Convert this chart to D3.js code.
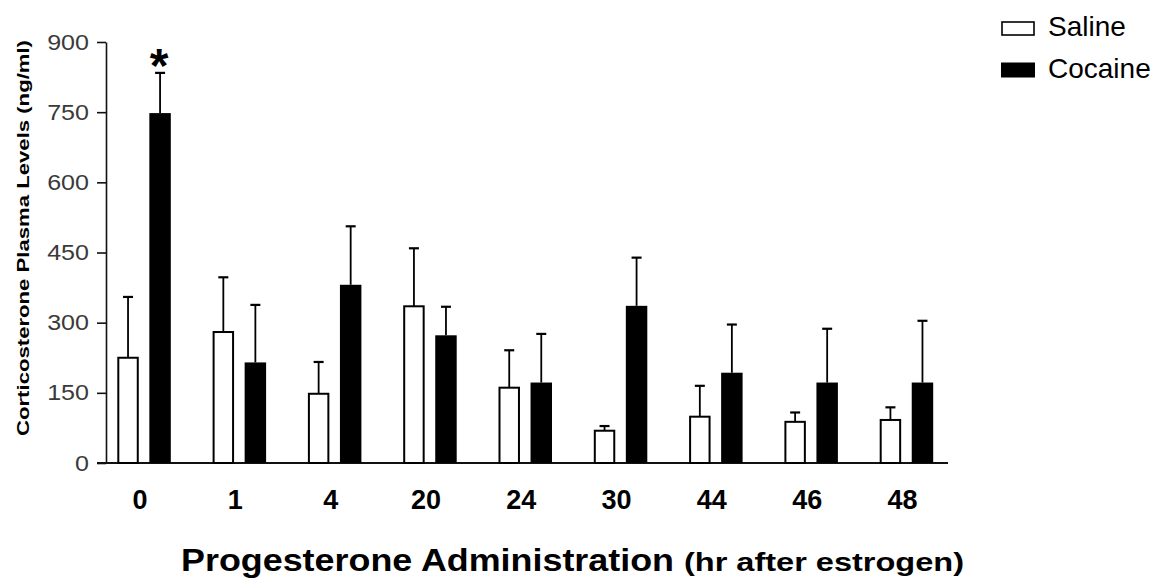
<!DOCTYPE html>
<html>
<head>
<meta charset="utf-8">
<script src="https://cdn.jsdelivr.net/npm/d3@7"></script>
<style>
  html, body { margin: 0; padding: 0; background: #fff; }
  svg { display: block; font-family: "Liberation Sans", Arial, Helvetica, sans-serif; }
</style>
</head>
<body>
<svg id="chart" width="1165" height="580"></svg>
<script>
// Hours after estrogen at which progesterone was given
const times = ["0", "1", "4", "20", "24", "30", "44", "46", "48"];
const groups = ["Saline", "Cocaine"];

// Corticosterone plasma levels (ng/ml), mean and SEM
const salineMean = [225, 280, 148, 335, 161, 69, 99, 88, 92];
const salineSem = [130, 117, 68, 124, 80, 10, 66, 20, 27];
const cocaineMean = [748, 215, 381, 273, 172, 336, 193, 172, 172];
const cocaineSem = [86, 123, 125, 61, 104, 103, 103, 115, 132];

// Groups marked as significantly different
const significant = ["0"];

const yTicks = [0, 150, 300, 450, 600, 750, 900];

const svg = d3.select("#chart");

const y = d3.scaleLinear().domain([0, 900]).range([463, 42]);

const x0 = d3.scaleBand()
  .domain(times)
  .range([106, 944.5])
  .paddingInner(0.4386)
  .paddingOuter(0.1186);

const x1 = d3.scaleBand()
  .domain(groups)
  .range([0, x0.bandwidth()])
  .paddingInner(0.33);

const rows = times.map((t, i) => ({
  time: t,
  values: [
    { group: "Saline", mean: salineMean[i], sem: salineSem[i] },
    { group: "Cocaine", mean: cocaineMean[i], sem: cocaineSem[i] }
  ]
}));

// ---- y axis ----
const yAxis = svg.append("g")
  .attr("transform", "translate(106,0)")
  .call(d3.axisLeft(y).tickValues(yTicks).tickSize(9).tickPadding(8).tickSizeOuter(0));
yAxis.select(".domain").attr("stroke", "#111").attr("stroke-width", 1.6);
yAxis.selectAll(".tick line").attr("stroke", "#111").attr("stroke-width", 1.6);
yAxis.selectAll(".tick text")
  .attr("font-family", "'Liberation Sans', Arial, sans-serif")
  .attr("font-size", 22)
  .attr("fill", "#3a3a3a")
  .each(function () {
    const len = this.getComputedTextLength();
    d3.select(this).attr("textLength", len * 1.14).attr("lengthAdjust", "spacingAndGlyphs");
  });

// ---- x baseline ----
svg.append("line")
  .attr("x1", 97).attr("x2", 948)
  .attr("y1", y(0)).attr("y2", y(0))
  .attr("stroke", "#111").attr("stroke-width", 1.8);

// ---- x axis labels ----
const xAxis = svg.append("g")
  .attr("transform", `translate(0,${y(0)})`)
  .call(d3.axisBottom(x0).tickSize(0).tickSizeOuter(0));
xAxis.select(".domain").remove();
xAxis.selectAll(".tick text")
  .attr("y", 46)
  .attr("dy", 0)
  .attr("dx", -4)
  .attr("font-family", "'Liberation Sans', Arial, sans-serif")
  .attr("font-size", 27)
  .attr("font-weight", "bold")
  .attr("fill", "#000");

// ---- bars ----
const groupG = svg.append("g").selectAll("g")
  .data(rows)
  .join("g")
  .attr("transform", d => `translate(${x0(d.time)},0)`);

// error bars drawn first so the bars cover their lower ends
const err = groupG.selectAll("g.err")
  .data(d => d.values)
  .join("g")
  .attr("class", "err");
err.append("line")
  .attr("x1", d => x1(d.group) + x1.bandwidth() / 2)
  .attr("x2", d => x1(d.group) + x1.bandwidth() / 2)
  .attr("y1", d => y(d.mean))
  .attr("y2", d => y(d.mean + d.sem))
  .attr("stroke", "#000").attr("stroke-width", 1.8);
err.append("line")
  .attr("x1", d => x1(d.group) + x1.bandwidth() / 2 - 5)
  .attr("x2", d => x1(d.group) + x1.bandwidth() / 2 + 5)
  .attr("y1", d => y(d.mean + d.sem))
  .attr("y2", d => y(d.mean + d.sem))
  .attr("stroke", "#000").attr("stroke-width", 2.2);

groupG.selectAll("rect")
  .data(d => d.values)
  .join("rect")
  .attr("x", d => x1(d.group) + (d.group === "Saline" ? 1 : 0))
  .attr("width", d => x1.bandwidth() - (d.group === "Saline" ? 2 : 0))
  .attr("y", d => y(d.mean))
  .attr("height", d => y(0) - y(d.mean))
  .attr("fill", d => d.group === "Saline" ? "#fff" : "#000")
  .attr("stroke", "#000")
  .attr("stroke-width", d => d.group === "Saline" ? 2 : 0);

// ---- significance marker ----
rows.filter(r => significant.includes(r.time)).forEach(r => {
  const c = r.values[1];
  svg.append("text")
    .attr("x", x0(r.time) + x1("Cocaine") + x1.bandwidth() / 2 - 1)
    .attr("y", y(c.mean + c.sem) + 9)
    .attr("text-anchor", "middle")
    .attr("font-size", 48)
    .attr("font-weight", "bold")
    .attr("fill", "#000")
    .text("*");
});

// ---- axis titles ----
svg.append("text")
  .attr("transform", "translate(29,238) rotate(-90)")
  .attr("text-anchor", "middle")
  .attr("font-size", 17)
  .attr("font-weight", "bold")
  .attr("textLength", 396)
  .attr("lengthAdjust", "spacingAndGlyphs")
  .attr("fill", "#000")
  .text("Corticosterone Plasma Levels (ng/ml)");

svg.append("text")
  .attr("x", 181).attr("y", 571)
  .attr("font-size", 31)
  .attr("font-weight", "bold")
  .attr("textLength", 493)
  .attr("lengthAdjust", "spacingAndGlyphs")
  .attr("fill", "#000")
  .text("Progesterone Administration");

svg.append("text")
  .attr("x", 684).attr("y", 571)
  .attr("font-size", 25)
  .attr("font-weight", "bold")
  .attr("textLength", 280)
  .attr("lengthAdjust", "spacingAndGlyphs")
  .attr("fill", "#000")
  .text("(hr after estrogen)");

// ---- legend ----
const legend = svg.append("g").attr("transform", "translate(1001,21)");
const legendItems = legend.selectAll("g")
  .data(groups)
  .join("g")
  .attr("transform", (d, i) => `translate(0,${i * 41.5})`);
legendItems.append("rect")
  .attr("x", d => d === "Saline" ? 1 : 0)
  .attr("y", d => d === "Saline" ? 1 : 0)
  .attr("width", d => d === "Saline" ? 32 : 34)
  .attr("height", d => d === "Saline" ? 13 : 15)
  .attr("fill", d => d === "Saline" ? "#fff" : "#000")
  .attr("stroke", "#000")
  .attr("stroke-width", d => d === "Saline" ? 1.6 : 0);
legendItems.append("text")
  .attr("x", 47)
  .attr("y", 15)
  .attr("font-size", 28)
  .attr("fill", "#000")
  .text(d => d);
</script>
</body>
</html>
